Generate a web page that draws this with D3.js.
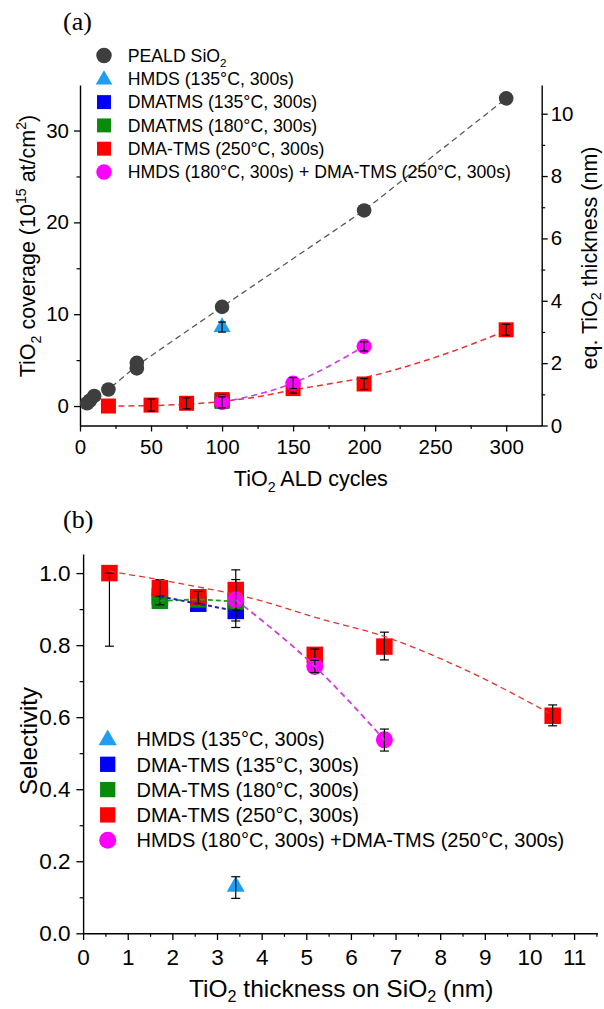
<!DOCTYPE html>
<html>
<head>
<meta charset="utf-8">
<script src="https://cdn.jsdelivr.net/npm/d3@7"></script>
<style>
  body { margin: 0; background: #fff; }
  svg { display: block; }
</style>
</head>
<body>
<svg id="fig" width="604" height="1009"></svg>
<script>
// ---------- Panel (a): TiO2 coverage vs. number of TiO2 ALD cycles ----------
const pealdCycles   = [5, 7, 10, 20, 40, 40, 100, 200, 300];
const pealdCoverage = [0.3, 0.6, 1.1, 1.8, 4.1, 4.7, 10.8, 21.3, 33.5];

const hmdsCycles   = [100];
const hmdsCoverage = [8.6];
const hmdsErr      = [0.55];

const dmatms135Cycles   = [100];
const dmatms135Coverage = [0.6];
const dmatms180Cycles   = [100];
const dmatms180Coverage = [0.5];

const dma250Cycles   = [20, 50, 75, 100, 150, 200, 300];
const dma250Coverage = [0.0, 0.1, 0.3, 0.7, 1.9, 2.4, 8.3];
const dma250Err      = [0, 0.65, 0.6, 0.5, 0.5, 0.6, 0.6];

const comboCycles   = [100, 150, 200];
const comboCoverage = [0.4, 2.5, 6.5];
const comboErr      = [0.6, 0.6, 0.5];

// dashed trend through the DMA-TMS (250 °C) points
const dma250TrendCycles   = [20, 50, 75, 100, 125, 150, 175, 200, 250, 300];
const dma250TrendCoverage = [0.0, 0.05, 0.2, 0.5, 1.0, 1.75, 2.4, 3.1, 5.3, 8.2];

const aCycleTicks    = [0, 50, 100, 150, 200, 250, 300];
const aCoverageTicks = [0, 10, 20, 30];
const aThickTicks    = [0, 2, 4, 6, 8, 10];

// ---------- Panel (b): selectivity vs. TiO2 thickness on SiO2 ----------
const bHmdsThick = [3.42];
const bHmdsSel   = [0.13];
const bHmdsLo    = [0.097];
const bHmdsHi    = [0.157];

const b135Thick = [1.72, 2.58, 3.42];
const b135Sel   = [0.935, 0.915, 0.895];
const b135Lo    = [0.935, 0.915, 0.849];
const b135Hi    = [0.935, 0.915, 0.930];

const b180Thick = [1.72, 2.58, 3.42];
const b180Sel   = [0.923, 0.927, 0.921];
const b180Lo    = [0.912, 0.927, 0.921];
const b180Hi    = [0.940, 0.927, 0.921];

const b250Thick = [0.59, 1.72, 2.58, 3.42, 5.19, 6.75, 10.52];
const b250Sel   = [1.0, 0.958, 0.933, 0.953, 0.773, 0.796, 0.604];
const b250Lo    = [0.797, 0.936, 0.915, 0.897, 0.754, 0.759, 0.576];
const b250Hi    = [1.0, 0.982, 0.949, 1.009, 0.789, 0.836, 0.634];

const bComboThick = [3.42, 5.19, 6.75];
const bComboSel   = [0.926, 0.741, 0.537];
const bComboLo    = [0.867, 0.724, 0.506];
const bComboHi    = [0.982, 0.758, 0.567];

// dashed trend through the DMA-TMS (250 °C) selectivity points
const b250TrendThick = [0.59, 2.0, 3.96, 5.2, 6.75, 8.5, 10.45];
const b250TrendSel   = [1.005, 0.975, 0.924, 0.877, 0.824, 0.735, 0.611];

const bThickTicks = [0, 1, 2, 3, 4, 5, 6, 7, 8, 9, 10, 11];
const bSelTicks   = [0, 0.2, 0.4, 0.6, 0.8, 1.0];

// ---------- shared styling ----------
const FONT = "'Liberation Sans', Arial, Helvetica, sans-serif";
const C = {
  peald: "#3e3e3e", pealdLine: "#5a5a5a",
  hmds: "#1f9ef0",
  blue: "#0000f5", blueLine: "#1c1cc8",
  green: "#0a8a0a", greenLine: "#1f9a1f",
  red: "#ff0000", redLine: "#e4342f",
  magenta: "#ff00ff", magentaLine: "#d23be0"
};

const svg = d3.select("#fig");
const zip = (xs, ys) => xs.map((x, i) => [x, ys[i]]);

// text with sub/superscript pieces: [string, 0 normal | 1 sub | 2 sup]
function richText(sel, parts, size, subShift = 0.28) {
  let shift = 0;
  parts.forEach(([t, mode]) => {
    const target = mode === 1 ? size * subShift : mode === 2 ? -size * 0.40 : 0;
    sel.append("tspan")
      .attr("dy", target - shift)
      .attr("font-size", mode ? size * 0.66 : size)
      .text(t);
    shift = target;
  });
  return sel;
}

function styleAxis(g, size) {
  g.attr("font-family", FONT).attr("font-size", size);
  g.selectAll("path.domain").attr("stroke", "#000").attr("stroke-width", 1.4);
  g.selectAll(".tick line").attr("stroke", "#000").attr("stroke-width", 1.3);
  g.selectAll(".tick text").attr("fill", "#000");
}

function minorAxis(g, axisFn, scale, values, len) {
  g.call(axisFn(scale).tickValues(values).tickSize(len).tickFormat(""));
  g.select("path.domain").remove();
  g.selectAll(".tick line").attr("stroke", "#000").attr("stroke-width", 1.2);
}

function squares(g, pts, x, y, side, fill) {
  g.selectAll(null).data(pts).join("rect")
    .attr("x", d => x(d[0]) - side / 2).attr("y", d => y(d[1]) - side / 2)
    .attr("width", side).attr("height", side).attr("fill", fill);
}
function circles(g, pts, x, y, r, fill) {
  g.selectAll(null).data(pts).join("circle")
    .attr("cx", d => x(d[0])).attr("cy", d => y(d[1])).attr("r", r).attr("fill", fill);
}
function triangles(g, pts, x, y, w, fill) {
  const sym = d3.symbol(d3.symbolTriangle, Math.sqrt(3) / 4 * w * w);
  g.selectAll(null).data(pts).join("path")
    .attr("d", sym).attr("fill", fill)
    .attr("transform", d => `translate(${x(d[0])},${y(d[1])})`);
}
// error bars: rows of [x, lo, hi]
function errorBars(g, rows, x, y, cap) {
  rows.forEach(([xv, lo, hi]) => {
    if (hi - lo <= 0) return;
    const cx = x(xv);
    g.append("line").attr("x1", cx).attr("x2", cx).attr("y1", y(lo)).attr("y2", y(hi))
      .attr("stroke", "#000").attr("stroke-width", 1.2);
    [lo, hi].forEach(v => {
      g.append("line").attr("x1", cx - cap / 2).attr("x2", cx + cap / 2)
        .attr("y1", y(v)).attr("y2", y(v)).attr("stroke", "#000").attr("stroke-width", 1.2);
    });
  });
}
function dashed(g, pts, x, y, color, width, dash, curve) {
  g.append("path").datum(pts)
    .attr("d", d3.line().x(d => x(d[0])).y(d => y(d[1])).curve(curve || d3.curveLinear))
    .attr("fill", "none").attr("stroke", color).attr("stroke-width", width)
    .attr("stroke-dasharray", dash);
}

// =====================================================================
// Panel (a)
// =====================================================================
const A = { left: 80, right: 541.7, top: 85, bottom: 425.5 };
const xA  = d3.scaleLinear([0, 325], [A.left, A.right]);
const yA  = d3.scaleLinear([-2.12, 34.96], [A.bottom, A.top]);
const yA2 = d3.scaleLinear([0, 10.92], [A.bottom, A.top]);
const TICK_A = 20.5;

const gA = svg.append("g");

gA.append("text").attr("x", 63).attr("y", 30)
  .attr("font-family", "'Liberation Serif', 'Times New Roman', serif")
  .attr("font-size", 26).text("(a)");

// axes
const axA_b = gA.append("g").attr("transform", `translate(0,${A.bottom})`)
  .call(d3.axisBottom(xA).tickValues(aCycleTicks).tickSize(6).tickSizeOuter(0)
    .tickPadding(8).tickFormat(d3.format("d")));
styleAxis(axA_b, TICK_A);
minorAxis(gA.append("g").attr("transform", `translate(0,${A.bottom})`),
  d3.axisBottom, xA, [25, 75, 125, 175, 225, 275], 3.5);

const axA_l = gA.append("g").attr("transform", `translate(${A.left},0)`)
  .call(d3.axisLeft(yA).tickValues(aCoverageTicks).tickSize(6).tickSizeOuter(0)
    .tickPadding(5).tickFormat(d3.format("d")));
styleAxis(axA_l, TICK_A);
minorAxis(gA.append("g").attr("transform", `translate(${A.left},0)`),
  d3.axisLeft, yA, [5, 15, 25], 3.5);

const axA_r = gA.append("g").attr("transform", `translate(${A.right},0)`)
  .call(d3.axisRight(yA2).tickValues(aThickTicks).tickSize(6).tickSizeOuter(0)
    .tickPadding(3).tickFormat(d3.format("d")));
styleAxis(axA_r, TICK_A);
minorAxis(gA.append("g").attr("transform", `translate(${A.right},0)`),
  d3.axisRight, yA2, [1, 3, 5, 7, 9], 3.5);

// axis titles
richText(gA.append("text").attr("x", (A.left + A.right) / 2).attr("y", 486)
  .attr("text-anchor", "middle").attr("font-family", FONT),
  [["TiO", 0], ["2", 1], [" ALD cycles", 0]], 21.5);
richText(gA.append("text").attr("transform", "translate(35,246) rotate(-90)")
  .attr("text-anchor", "middle").attr("font-family", FONT),
  [["TiO", 0], ["2", 1], [" coverage (10", 0], ["15", 2], [" at/cm", 0], ["2", 2], [")", 0]], 21.5);
richText(gA.append("text").attr("transform", "translate(597,258) rotate(-90)")
  .attr("text-anchor", "middle").attr("font-family", FONT),
  [["eq. TiO", 0], ["2", 1], [" thickness (nm)", 0]], 21.5, 0.2);

// dashed guide lines
const pealdMeans = Array.from(d3.rollup(zip(pealdCycles, pealdCoverage),
  v => d3.mean(v, d => d[1]), d => d[0]), ([k, v]) => [k, v]).sort((a, b) => a[0] - b[0]);
const linesA = gA.append("g");
dashed(linesA, pealdMeans, xA, yA, C.pealdLine, 1.3, "6,4");
dashed(linesA, zip(dma250TrendCycles, dma250TrendCoverage), xA, yA, C.redLine, 1.5, "6,4", d3.curveMonotoneX);
dashed(linesA, zip(comboCycles, comboCoverage), xA, yA, C.magentaLine, 1.6, "6,4", d3.curveMonotoneX);

// markers
const mA = gA.append("g");
circles(mA, zip(pealdCycles, pealdCoverage), xA, yA, 7.3, C.peald);
triangles(mA, zip(hmdsCycles, hmdsCoverage), xA, yA, 17, C.hmds);
errorBars(mA, hmdsCycles.map((c, i) => [c, hmdsCoverage[i] - hmdsErr[i], hmdsCoverage[i] + hmdsErr[i]]), xA, yA, 8);
squares(mA, zip(dmatms135Cycles, dmatms135Coverage), xA, yA, 15, C.blue);
squares(mA, zip(dmatms180Cycles, dmatms180Coverage), xA, yA, 15, C.green);
squares(mA, zip(dma250Cycles, dma250Coverage), xA, yA, 15, C.red);
errorBars(mA, dma250Cycles.map((c, i) => [c, dma250Coverage[i] - dma250Err[i], dma250Coverage[i] + dma250Err[i]]), xA, yA, 8);
circles(mA, zip(comboCycles, comboCoverage), xA, yA, 7.6, C.magenta);
errorBars(mA, comboCycles.map((c, i) => [c, comboCoverage[i] - comboErr[i], comboCoverage[i] + comboErr[i]]), xA, yA, 8);

// legend (a)
const legA = [
  { shape: "circle", color: C.peald, parts: [["PEALD SiO", 0], ["2", 1]] },
  { shape: "triangle", color: C.hmds, parts: [["HMDS (135°C, 300s)", 0]] },
  { shape: "square", color: C.blue, parts: [["DMATMS (135°C, 300s)", 0]] },
  { shape: "square", color: C.green, parts: [["DMATMS (180°C, 300s)", 0]] },
  { shape: "square", color: C.red, parts: [["DMA-TMS (250°C, 300s)", 0]] },
  { shape: "circle", color: C.magenta, parts: [["HMDS (180°C, 300s) + DMA-TMS (250°C, 300s)", 0]] }
];
function drawLegend(g, items, mx, tx, y0, dy, size, fontSize) {
  items.forEach((it, i) => {
    const cy = y0 + i * dy;
    if (it.shape === "circle") {
      g.append("circle").attr("cx", mx).attr("cy", cy).attr("r", size / 2).attr("fill", it.color);
    } else if (it.shape === "square") {
      g.append("rect").attr("x", mx - size * 0.45).attr("y", cy - size * 0.45)
        .attr("width", size * 0.9).attr("height", size * 0.9).attr("fill", it.color);
    } else {
      g.append("path").attr("d", d3.symbol(d3.symbolTriangle, Math.sqrt(3) / 4 * size * size * 1.15)())
        .attr("transform", `translate(${mx},${cy + 1})`).attr("fill", it.color);
    }
    richText(g.append("text").attr("x", tx).attr("y", cy + fontSize * 0.36)
      .attr("font-family", FONT), it.parts, fontSize);
  });
}
drawLegend(gA.append("g"), legA, 104, 127.7, 55.5, 23.3, 15.5, 17.7);

// =====================================================================
// Panel (b)
// =====================================================================
const B = { left: 83.1, right: 597.3, top: 554, bottom: 933.3 };
const xB = d3.scaleLinear([0, 11.52], [B.left, B.right]);
const yB = d3.scaleLinear([0, 1.053], [B.bottom, B.top]);
const TICK_B = 22.5;

const gB = svg.append("g");
gB.append("text").attr("x", 63).attr("y", 528)
  .attr("font-family", "'Liberation Serif', 'Times New Roman', serif")
  .attr("font-size", 26).text("(b)");

const axB_b = gB.append("g").attr("transform", `translate(0,${B.bottom})`)
  .call(d3.axisBottom(xB).tickValues(bThickTicks).tickSize(6.7).tickSizeOuter(0)
    .tickPadding(9).tickFormat(d3.format("d")));
styleAxis(axB_b, TICK_B);
minorAxis(gB.append("g").attr("transform", `translate(0,${B.bottom})`),
  d3.axisBottom, xB, d3.range(0.5, 11.6, 1), 3.5);

const axB_l = gB.append("g").attr("transform", `translate(${B.left},0)`)
  .call(d3.axisLeft(yB).tickValues(bSelTicks).tickSize(6.7).tickSizeOuter(0)
    .tickPadding(6).tickFormat(d3.format(".1f")));
styleAxis(axB_l, TICK_B);
minorAxis(gB.append("g").attr("transform", `translate(${B.left},0)`),
  d3.axisLeft, yB, [0.1, 0.3, 0.5, 0.7, 0.9], 3.5);

richText(gB.append("text").attr("x", (B.left + B.right) / 2 + 1).attr("y", 997)
  .attr("text-anchor", "middle").attr("font-family", FONT),
  [["TiO", 0], ["2", 1], [" thickness on SiO", 0], ["2", 1], [" (nm)", 0]], 24.5, 0.2);
gB.append("text").attr("transform", "translate(37,741) rotate(-90)")
  .attr("text-anchor", "middle").attr("font-family", FONT).attr("font-size", 24)
  .text("Selectivity");

// markers
const mB = gB.append("g");
const rows = (xs, lo, hi) => xs.map((x, i) => [x, lo[i], hi[i]]);
triangles(mB, zip(bHmdsThick, bHmdsSel), xB, yB, 18, C.hmds);
errorBars(mB, rows(bHmdsThick, bHmdsLo, bHmdsHi), xB, yB, 9);
squares(mB, zip(b135Thick, b135Sel), xB, yB, 16.5, C.blue);
errorBars(mB, rows(b135Thick, b135Lo, b135Hi), xB, yB, 9);
squares(mB, zip(b180Thick, b180Sel), xB, yB, 16.5, C.green);
errorBars(mB, rows(b180Thick, b180Lo, b180Hi), xB, yB, 9);
squares(mB, zip(b250Thick, b250Sel), xB, yB, 16.5, C.red);
errorBars(mB, rows(b250Thick, b250Lo, b250Hi), xB, yB, 9);
circles(mB, zip(bComboThick, bComboSel), xB, yB, 8.5, C.magenta);
errorBars(mB, rows(bComboThick, bComboLo, bComboHi), xB, yB, 9);

// dashed guide lines drawn over the markers
const linesB = gB.append("g");
dashed(linesB, zip(b250TrendThick, b250TrendSel), xB, yB, C.redLine, 1.3, "6,4", d3.curveMonotoneX);
dashed(linesB, zip(b180Thick, b180Sel), xB, yB, C.greenLine, 1.8, "5,3");
dashed(linesB, zip(b135Thick, b135Sel), xB, yB, C.blueLine, 2, "4,3");
dashed(linesB, zip(bComboThick, bComboSel), xB, yB, C.magentaLine, 1.8, "6,4", d3.curveMonotoneX);

// legend (b)
const legB = [
  { shape: "triangle", color: C.hmds, parts: [["HMDS (135°C, 300s)", 0]] },
  { shape: "square", color: C.blue, parts: [["DMA-TMS (135°C, 300s)", 0]] },
  { shape: "square", color: C.green, parts: [["DMA-TMS (180°C, 300s)", 0]] },
  { shape: "square", color: C.red, parts: [["DMA-TMS (250°C, 300s)", 0]] },
  { shape: "circle", color: C.magenta, parts: [["HMDS (180°C, 300s) +DMA-TMS (250°C, 300s)", 0]] }
];
drawLegend(gB.append("g"), legB, 107.7, 136.5, 739, 25.3, 17, 20);
</script>
</body>
</html>
